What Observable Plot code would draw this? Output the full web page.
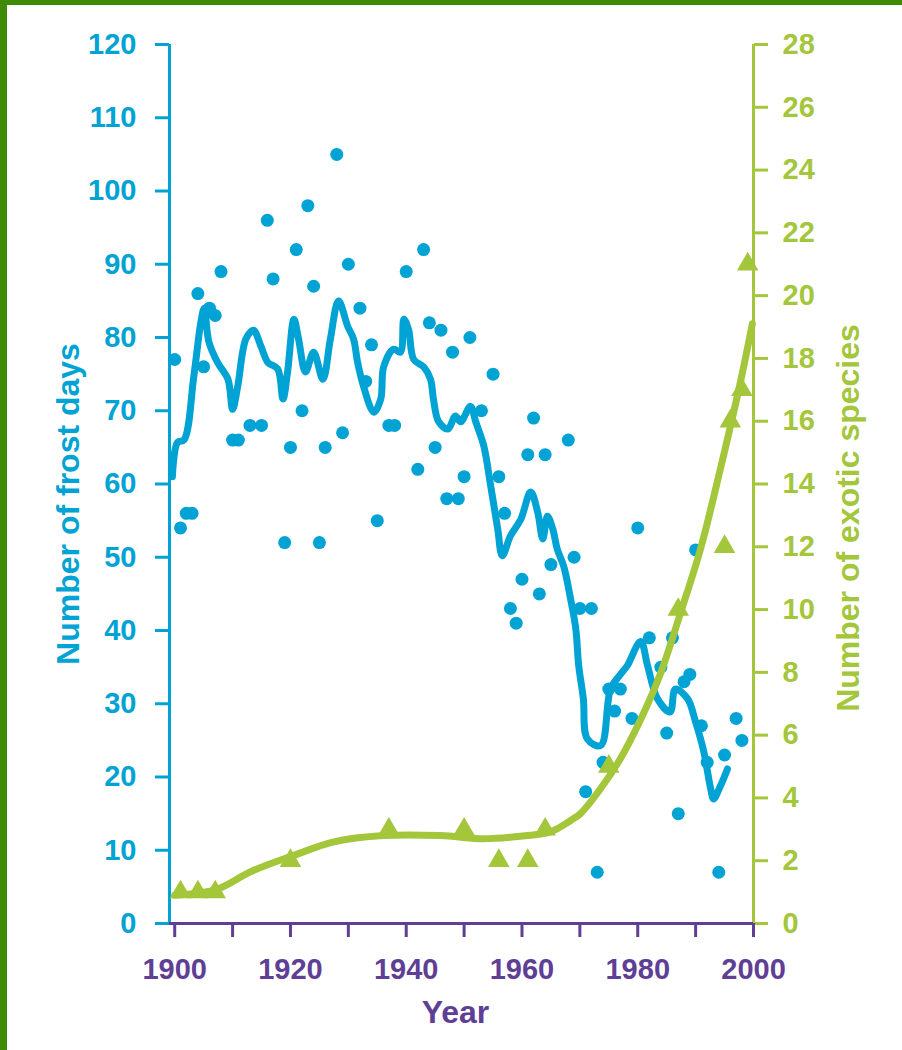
<!DOCTYPE html>
<html>
<head>
<meta charset="utf-8">
<script src="https://cdn.jsdelivr.net/npm/d3@7"></script>
<script src="https://cdn.jsdelivr.net/npm/@observablehq/plot@0.6"></script>
<style>
  html, body { margin: 0; padding: 0; background: #ffffff; }
  body { width: 902px; height: 1050px; position: relative; overflow: hidden; }
  #chart { position: absolute; left: 0; top: 0; }
  .bar { position: absolute; background: #3f8a07; }
</style>
</head>
<body>
<div id="chart"></div>
<div class="bar" style="left:0;top:0;width:902px;height:5px"></div>
<div class="bar" style="left:0;top:0;width:7px;height:1050px"></div>
<script>
// ---- Data ----
// Annual frost days (scatter)
const frostYears = [1900,1901,1902,1903,1904,1905,1906,1907,1908,1910,1911,1913,1915,1916,1917,1919,1920,1921,1922,1923,1924,1925,1926,1928,1929,1930,1932,1933,1934,1935,1937,1938,1940,1942,1943,1944,1945,1946,1947,1948,1949,1950,1951,1953,1955,1956,1957,1958,1959,1960,1961,1962,1963,1964,1965,1968,1969,1970,1971,1972,1973,1974,1975,1976,1977,1979,1980,1982,1984,1985,1986,1987,1988,1989,1990,1991,1992,1994,1995,1997,1998];
const frostDays  = [77,54,56,56,86,76,84,83,89,66,66,68,68,96,88,52,65,92,70,98,87,52,65,105,67,90,84,74,79,55,68,68,89,62,92,82,65,81,58,78,58,61,80,70,75,61,56,43,41,47,64,69,45,64,49,66,50,43,18,43,7,22,32,29,32,28,54,39,35,26,39,15,33,34,51,27,22,7,23,28,25];

// Smoothed frost-day trend line
const trendYears = [1899.6,1900.5,1901.6,1903.3,1904.5,1905.1,1905.9,1907.4,1909.2,1910.0,1910.9,1912.3,1913.6,1914.9,1916.1,1917.8,1918.7,1919.5,1920.6,1921.4,1922.6,1924.0,1925.6,1926.9,1928.3,1929.9,1930.9,1931.6,1932.6,1934.4,1935.6,1936.1,1937.8,1939.0,1939.6,1940.4,1941.3,1943.0,1944.2,1944.7,1945.6,1947.2,1948.5,1949.4,1951.1,1952.0,1953.4,1954.6,1955.8,1956.6,1958.0,1959.8,1961.5,1962.7,1963.6,1964.4,1965.3,1966.1,1967.2,1968.4,1969.3,1969.8,1970.6,1971.3,1973.6,1975.3,1977.0,1978.2,1980.5,1981.7,1983.4,1985.6,1986.5,1988.6,1990.0,1991.4,1992.6,1993.1,1994.3,1995.5];
const trendDays  = [61,65.7,66,74.7,82,84,79.4,76.6,74.3,70.2,73.4,79.8,81,78.8,76.6,75.7,71.6,75.3,82.5,79.8,75.3,78,74.3,79.8,85,81.5,79.8,76.6,73.4,69.8,71.6,76,78.4,78,82.5,81.1,77,76,74.3,71.6,68.5,67.5,69.3,68.5,70.6,68.5,65.2,59.7,53.9,50.2,52.9,55.2,58.9,56.2,52.5,55.6,53.9,51.1,48.8,44.3,40.2,35.2,30.7,25.2,24.3,32,34,35.2,38.5,35.2,30.7,28.9,32,30.7,27.5,23.5,18.4,17,18.8,21.1];

// Exotic species counts (triangles)
const speciesYears = [1901,1904,1907,1920,1937,1950,1956,1961,1964,1975,1987,1995,1996,1998,1999];
const speciesCount = [1,1,1,2,3,3,2,2,3,5,10,12,16,17,21];

// Fitted species curve
const curveYears = [1900,1907.4,1913.1,1920.6,1927.5,1936.1,1945.9,1953.4,1959.2,1964.9,1968.4,1970.1,1973.6,1977,1980.5,1983.9,1987.4,1990.8,1994.3,1997.8,1999.8];
const curveCount = [0.9,1.1,1.65,2.17,2.6,2.8,2.8,2.7,2.77,2.92,3.28,3.5,4.3,5.25,6.5,7.95,9.9,11.9,14.5,17.3,19.1];

// Axis ticks
const frostTicks = d3.range(0, 121, 10);
const speciesTicks = d3.range(0, 29, 2);
const yearTicks = d3.range(1900, 2001, 10);
const yearLabels = [1900, 1920, 1940, 1960, 1980, 2000];

// ---- Build ----
const BLUE = "#00a3d4", GREEN = "#a3c63b", PURPLE = "#5f3f96";
const FONT = "'Liberation Sans', Arial, sans-serif";
const k = 120 / 28; // species -> frost-days scale
const xDomain = [1899.1, 2000];

const scatter = frostYears.map((y, i) => ({year: y, v: frostDays[i]}));
const trend = trendYears.map((y, i) => ({year: y, v: trendDays[i]}));
const species = speciesYears.map((y, i) => ({year: y, v: speciesCount[i] * k}));
const curve = curveYears.map((y, i) => ({year: y, v: curveCount[i] * k}));

const chart = Plot.plot({
  width: 902,
  height: 1050,
  marginLeft: 169,
  marginRight: 149,
  marginTop: 44,
  marginBottom: 127,
  x: {domain: xDomain},
  y: {domain: [0, 120]},
  style: {fontFamily: FONT, fontWeight: "bold", background: "transparent", overflow: "visible"},
  marks: [
    // axis lines
    Plot.ruleX([xDomain[0]], {stroke: BLUE, strokeWidth: 3}),
    Plot.ruleX([xDomain[1]], {stroke: GREEN, strokeWidth: 3}),
    // data
    Plot.dot(scatter, {x: "year", y: "v", r: 6.5, fill: BLUE, stroke: "none"}),
    Plot.line(trend, {x: "year", y: "v", stroke: BLUE, strokeWidth: 7, curve: "catmull-rom", strokeLinejoin: "round", strokeLinecap: "round"}),
    Plot.line(curve, {x: "year", y: "v", stroke: GREEN, strokeWidth: 7, curve: "catmull-rom"}),
    Plot.dot(species, {x: "year", y: "v", symbol: "triangle", r: 8, fill: GREEN, stroke: "none"}),
    Plot.ruleY([0], {stroke: PURPLE, strokeWidth: 3}),
    // axes
    Plot.axisY(frostTicks, {anchor: "left", tickSize: 14, tickPadding: 19, stroke: BLUE, fill: BLUE, strokeWidth: 3, fontSize: 29, label: null}),
    Plot.axisY(speciesTicks.map(d => d * k), {anchor: "right", tickSize: 14, tickPadding: 15, stroke: GREEN, fill: GREEN, strokeWidth: 3, fontSize: 29, tickFormat: d => Math.round(d / k), label: null}),
    Plot.axisX(yearTicks, {anchor: "bottom", tickSize: 14, tickPadding: 21, stroke: PURPLE, fill: PURPLE, strokeWidth: 3, fontSize: 29, tickFormat: d => yearLabels.includes(d) ? String(d) : "", label: null}),
    // titles
    Plot.text(["Number of frost days"], {frameAnchor: "left", dx: -101, dy: 20, rotate: -90, fill: BLUE, fontSize: 32, textAnchor: "middle", lineAnchor: "middle"}),
    Plot.text(["Number of exotic species"], {frameAnchor: "right", dx: 95, dy: 34, rotate: -90, fill: GREEN, fontSize: 32, textAnchor: "middle", lineAnchor: "middle"}),
    Plot.text(["Year"], {frameAnchor: "bottom", dx: -6, dy: 89, fill: PURPLE, fontSize: 32, textAnchor: "middle", lineAnchor: "middle"})
  ]
});
document.getElementById("chart").appendChild(chart);
</script>
</body>
</html>
